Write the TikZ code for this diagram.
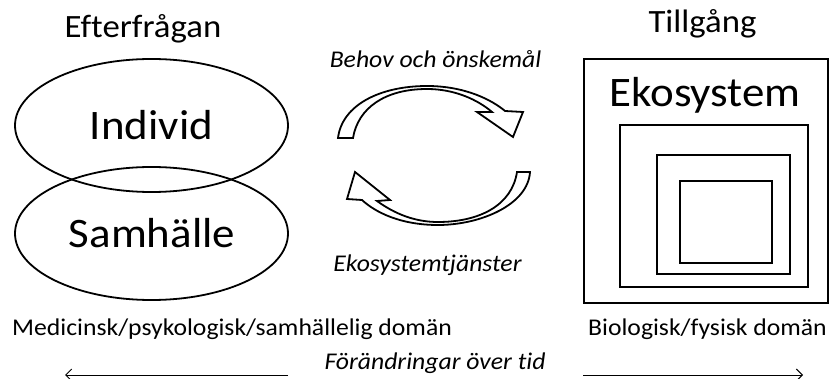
\documentclass[tikz,border=0pt]{standalone}
\usepackage{fontspec}
\setmainfont[FakeStretch=1.07,Ligatures=NoCommon]{Carlito}
\usetikzlibrary{shapes.geometric,arrows.meta}
\begin{document}
\begin{tikzpicture}[x=1pt,y=-1pt,
  ell/.style={draw,ellipse,line width=1.8pt,minimum width=273pt,minimum height=133pt,inner sep=0pt},
  sq/.style={draw,line width=2.2pt,inner sep=0pt},
  blk/.style={draw,line width=1.8pt,fill=white,line join=miter},
  title/.style={anchor=base,font=\fontsize{32.5}{38}\selectfont,inner sep=0pt},
  big/.style={anchor=base,font=\fontsize{42}{48}\selectfont,inner sep=0pt},
  small/.style={anchor=base,font=\fontsize{24}{28}\selectfont,inner sep=0pt},
  smallit/.style={anchor=base,font=\fontsize{24}{28}\selectfont\itshape,inner sep=0pt},
  timearrow/.style={line width=1pt,-{Straight Barb[length=6pt,width=12pt,line width=1pt]}}]
\useasboundingbox (0,0) rectangle (830,379);
% ellipses
\node[ell] (indE) at (151.5,125.5) {};
\node[ell] (samE) at (151.5,233.5) {};
\node[title] (eft) at (143,38) {Efterfrågan};
\node[big] (ind) at (151.5,140) {Individ};
\node[big] (sam) at (152,248) {Samhälle};
% squares
\node[sq,minimum width=244pt,minimum height=244pt] (s1) at (706,181) {};
\node[sq,minimum width=188pt,minimum height=162pt] (s2) at (714,206) {};
\node[sq,minimum width=133pt,minimum height=119pt] (s3) at (723.5,214.5) {};
\node[sq,minimum width=92pt,minimum height=82pt] (s4) at (726,222) {};
\node[title] (till) at (702.5,33) {Tillgång};
\node[big] (eko) at (705,107) {Ekosystem};
% block arrows
\draw[blk] (338,138) .. controls (342,105) and (380,86) .. (427,86)
  .. controls (465,86) and (492,100) .. (505,111) -- (523,112) -- (513,137) -- (477,112) -- (492,112)
  .. controls (478,100) and (455,89) .. (427,89)
  .. controls (385,89) and (358,108) .. (353,138) -- cycle;
\draw[blk] (530,172) .. controls (528,205) and (480,225) .. (438,225)
  .. controls (400,225) and (375,212) .. (362,200) -- (347,199) -- (355,172) -- (390,200) -- (377,201)
  .. controls (395,214) and (415,222) .. (438,222)
  .. controls (480,222) and (512,205) .. (517,172) -- cycle;
\node[smallit] (behov) at (435.5,68) {Behov och önskemål};
\node[smallit] (tjan) at (427.5,272) {Ekosystemtjänster};
% bottom
\node[small,anchor=base west] (med) at (12,336) {Medicinsk/psykologisk/samhällelig domän};
\node[small,anchor=base west] (bio) at (588,335) {Biologisk/fysisk domän};
\node[smallit] (forand) at (435,369) {Förändringar över tid};
\coordinate (la) at (288,375);
\coordinate (lb) at (65,375);
\coordinate (ra) at (583,375);
\coordinate (rb) at (803,375);
\draw[timearrow] (la) -- (lb);
\draw[timearrow] (ra) -- (rb);
\end{tikzpicture}
\end{document}
